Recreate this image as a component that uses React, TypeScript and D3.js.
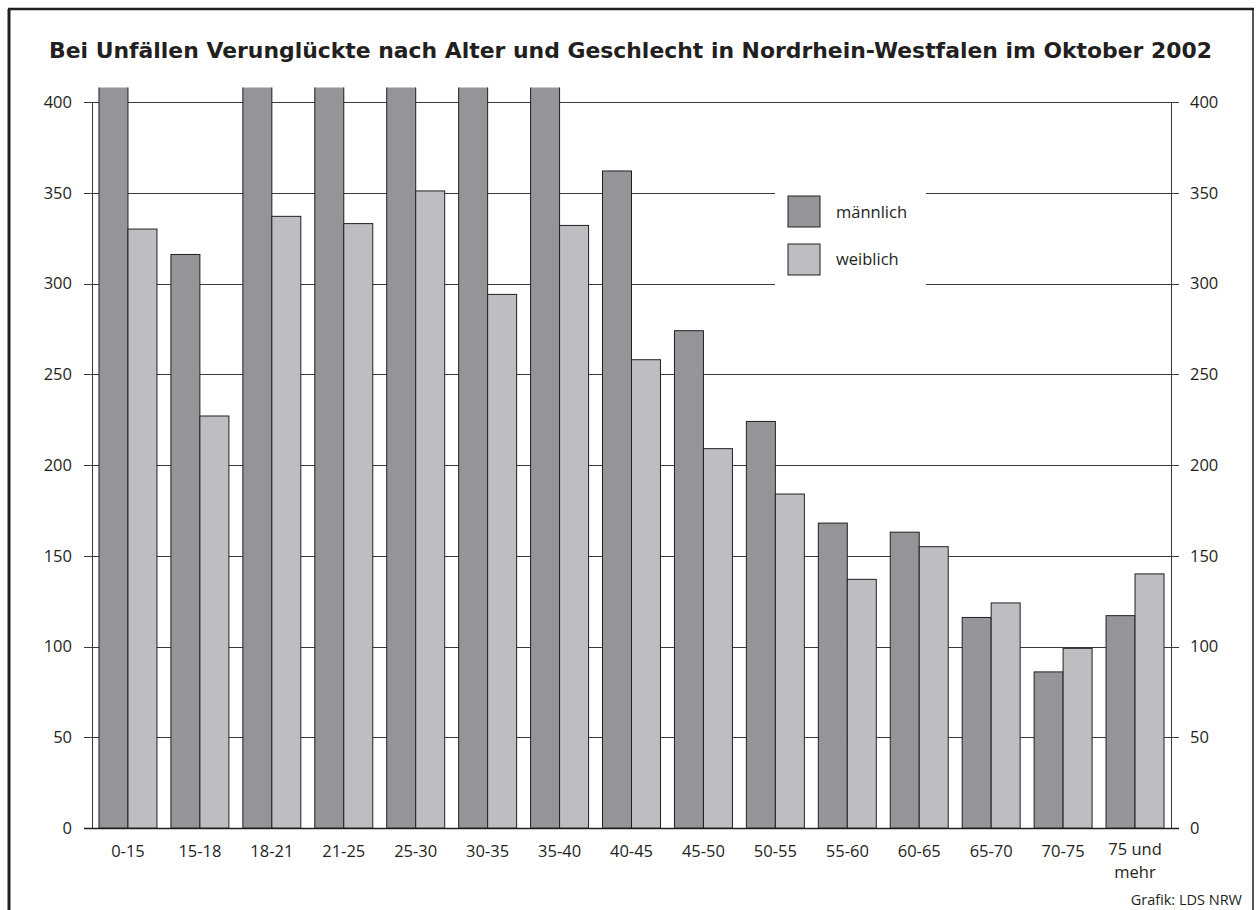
import * as React from 'react';
import * as d3 from 'd3';

const categories = ['0-15', '15-18', '18-21', '21-25', '25-30', '30-35', '35-40', '40-45', '45-50', '50-55', '55-60', '60-65', '65-70', '70-75', '75 und mehr'];
// männlich values above 400 are cut off in the original chart (estimated)
const maleValues = [455, 316, 520, 560, 530, 470, 430, 362, 274, 224, 168, 163, 116, 86, 117];
const femaleValues = [330, 227, 337, 333, 351, 294, 332, 258, 209, 184, 137, 155, 124, 99, 140];
const yTicks = [0, 50, 100, 150, 200, 250, 300, 350, 400];
const seriesNames = ['männlich', 'weiblich'];

const TITLE = 'Bei Unfällen Verunglückte nach Alter und Geschlecht in Nordrhein-Westfalen im Oktober 2002';
const SOURCE = 'Grafik: LDS NRW';

const W = 1256;
const H = 910;
const left = 92;
const right = 1171;
const top = 102;
const bottom = 828;
const ink = '#231f20';
const colors = ['#939598', '#bdbec1'];
const font = '"Open Sans", "DejaVu Sans", sans-serif';

const App: React.FC = () => {
  const x = d3.scaleBand<string>().domain(categories).range([left, right]).paddingInner(0.194).paddingOuter(0.097);
  const x1 = d3.scaleBand<number>().domain([0, 1]).range([0, x.bandwidth()]);
  const y = d3.scaleLinear().domain([0, 400]).range([bottom, top]);
  const clipTop = y(408);

  // legend block
  const lgX = 775;
  const lgW = 151;
  const lgY = y(350) - 8;
  const lgH = y(300) - y(350) + 16;

  return (
    <svg width={W} height={H} style={{ position: 'absolute', left: 0, top: 0 }} fontFamily={font}>
      <rect width={W} height={H} fill="white" />
      <defs>
        <clipPath id="plotClip">
          <rect x={left} y={clipTop} width={right - left} height={bottom - clipTop + 2} />
        </clipPath>
      </defs>

      {/* frame */}
      <line x1={9} y1={9} x2={9} y2={H + 5} stroke={ink} strokeWidth={3} />
      <line x1={8} y1={9} x2={1254} y2={9} stroke={ink} strokeWidth={2.5} />
      <line x1={1253} y1={8} x2={1253} y2={H + 5} stroke={ink} strokeWidth={1.5} />

      <text x={49} y={58} fontSize={20.5} fontWeight={700} fill={ink}
        fontFamily='"DejaVu Sans", sans-serif' textLength={1163} lengthAdjust="spacingAndGlyphs">{TITLE}</text>

      {/* gridlines with ticks on both sides */}
      <g stroke="#3a3a3a" strokeWidth={1}>
        {yTicks.map((t) => (
          <line key={t} x1={left - 8} x2={right + 8} y1={Math.round(y(t)) + 0.5} y2={Math.round(y(t)) + 0.5}
            strokeWidth={t === 0 ? 1.6 : 1} stroke={t === 0 ? ink : '#3a3a3a'} />
        ))}
        <line x1={left + 0.5} x2={left + 0.5} y1={y(400)} y2={bottom} />
        <line x1={right + 0.5} x2={right + 0.5} y1={y(400)} y2={bottom} />
      </g>

      <g fontSize={16.5} fill={ink}>
        {yTicks.map((t) => (
          <g key={t}>
            <text x={72} y={y(t)} dy="0.36em" textAnchor="end">{t}</text>
            <text x={1190} y={y(t)} dy="0.36em" textAnchor="start">{t}</text>
          </g>
        ))}
      </g>

      {/* legend background hides gridlines */}
      <rect x={lgX} y={lgY} width={lgW} height={lgH} fill="white" />
      {seriesNames.map((name, i) => (
        <g key={name}>
          <rect x={788} y={196 + i * 48} width={32} height={31} fill={colors[i]} stroke={ink} strokeWidth={1} />
          <text x={836} y={212 + i * 47} dy="0.36em" fontSize={16.5} fill={ink}>{name}</text>
        </g>
      ))}

      {/* bars */}
      <g clipPath="url(#plotClip)">
        {categories.map((c, i) => (
          <g key={c} transform={`translate(${x(c)},0)`}>
            {[maleValues[i], femaleValues[i]].map((v, j) => (
              <rect key={j} x={(x1(j) || 0)} y={y(v)} width={x1.bandwidth()} height={bottom - y(v)}
                fill={colors[j]} stroke={ink} strokeWidth={1} />
            ))}
          </g>
        ))}
      </g>

      {/* category labels */}
      <g fontSize={16.5} fill={ink} textAnchor="middle">
        {categories.map((c) => {
          const cx = (x(c) || 0) + x.bandwidth() / 2;
          const lines = c === '75 und mehr' ? ['75 und', 'mehr'] : [c];
          return lines.map((l, k) => (
            <text key={c + k} x={cx} y={lines.length > 1 ? 855 + k * 23 : 857}>{l}</text>
          ));
        })}
      </g>

      <text x={1242} y={905} textAnchor="end" fontSize={14.5} fill={ink}>{SOURCE}</text>
    </svg>
  );
};

export default App;
